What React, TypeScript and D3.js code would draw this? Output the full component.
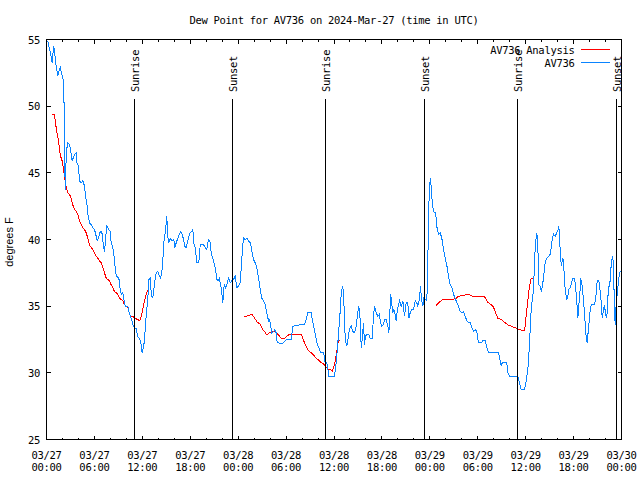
import React from "react";
import * as d3 from "d3";

// ---- data (hours after 2024-03-27 00:00 UTC, degrees F) ----
const av736: [number, number][] = [
[0.16,54.9],[0.38,54.25],[0.50,54.0],[0.63,53.6],[0.71,53.25],[0.79,53.75],[0.88,54.5],[1.00,54.25],[1.13,53.25],[1.29,52.75],[1.42,52.25],[1.54,52.6],[1.72,52.9],[1.84,52.6],[1.97,52.25],[2.13,51.9],[2.22,49.6],[2.29,46.0],[2.34,43.75],[2.42,45.5],[2.54,46.8],[2.67,47.25],[2.88,47.1],[3.01,46.75],[3.22,45.9],[3.51,46.4],[3.72,46.5],[3.80,45.75],[4.01,45.5],[4.13,44.4],[4.35,44.25],[4.55,44.4],[4.76,44.0],[4.89,43.25],[5.05,42.75],[5.17,41.9],[5.39,41.25],[5.60,41.1],[5.80,40.9],[6.01,40.75],[6.22,40.25],[6.35,39.9],[6.52,40.1],[6.64,40.5],[6.85,40.6],[6.98,40.4],[7.14,39.4],[7.27,39.1],[7.39,40.0],[7.55,41.0],[7.80,40.75],[7.98,40.6],[8.10,39.75],[8.31,39.4],[8.52,38.5],[8.64,37.5],[8.81,37.25],[9.06,37.1],[9.23,36.25],[9.36,35.9],[9.56,36.0],[9.68,35.5],[9.86,35.0],[10.19,35.0],[10.31,34.6],[10.49,34.25],[10.61,34.1],[10.81,33.6],[11.02,33.4],[11.23,33.3],[11.43,32.7],[11.65,32.6],[11.86,32.1],[11.98,31.5],[12.18,32.0],[12.33,33.0],[12.48,34.25],[12.68,35.5],[12.81,37.0],[12.99,37.1],[13.11,36.0],[13.24,35.6],[13.40,35.9],[13.52,36.75],[13.74,37.5],[13.94,37.6],[14.15,37.25],[14.27,37.1],[14.44,37.5],[14.56,38.4],[14.69,39.75],[14.86,40.5],[14.99,41.25],[15.06,41.75],[15.19,40.25],[15.31,39.75],[15.49,40.1],[15.69,39.9],[15.94,40.0],[16.07,39.4],[16.24,39.75],[16.44,40.1],[16.65,40.4],[16.82,40.6],[16.99,40.4],[17.16,40.0],[17.32,39.5],[17.49,39.4],[17.69,39.9],[17.82,40.25],[17.99,40.5],[18.19,40.6],[18.32,40.75],[18.44,39.75],[18.62,39.4],[18.82,38.25],[19.07,38.25],[19.25,39.6],[19.66,39.6],[19.87,39.4],[20.07,39.25],[20.20,39.75],[20.32,40.0],[20.50,39.75],[20.62,39.0],[20.82,38.6],[21.04,38.1],[21.16,37.75],[21.33,37.0],[21.50,36.9],[21.66,37.1],[21.79,36.6],[21.91,36.25],[22.08,35.25],[22.25,36.6],[22.41,36.4],[22.58,36.6],[22.79,37.1],[23.00,36.75],[23.20,36.9],[23.42,37.0],[23.63,37.25],[23.83,36.4],[24.04,36.5],[24.26,36.75],[24.46,38.6],[24.58,39.6],[24.71,40.1],[24.88,40.0],[25.08,40.1],[25.29,39.9],[25.54,39.75],[25.71,39.1],[25.92,38.5],[26.13,38.25],[26.33,37.9],[26.55,37.1],[26.76,36.25],[26.96,35.6],[27.17,35.4],[27.39,35.1],[27.59,34.5],[27.80,33.9],[27.92,34.0],[28.05,33.6],[28.21,33.0],[28.42,33.1],[28.59,33.25],[28.76,33.0],[28.89,32.25],[29.59,32.2],[30.02,32.5],[30.64,32.5],[30.84,33.5],[31.68,33.6],[32.31,33.6],[32.52,34.0],[32.72,34.5],[33.15,34.5],[33.27,34.0],[33.43,33.6],[33.65,32.9],[33.85,32.25],[34.10,31.9],[34.31,31.5],[34.72,31.5],[34.81,31.0],[34.94,30.6],[35.10,30.75],[35.22,30.4],[35.35,29.75],[36.06,29.75],[36.28,30.8],[36.48,32.25],[36.61,33.25],[36.79,34.75],[36.91,36.0],[37.04,36.4],[37.11,36.5],[37.24,35.25],[37.33,33.75],[37.42,32.4],[37.61,32.0],[37.73,32.4],[37.86,33.0],[38.03,33.4],[38.16,33.5],[38.36,33.1],[38.57,33.0],[38.78,33.5],[38.98,34.5],[39.11,35.0],[39.28,34.0],[39.41,31.9],[39.53,32.5],[39.69,33.75],[39.82,32.1],[39.94,32.75],[40.11,32.9],[40.36,32.9],[40.53,32.6],[40.78,32.6],[40.95,34.25],[41.07,35.0],[41.29,34.5],[41.49,34.25],[41.70,34.4],[41.82,33.75],[41.99,33.5],[42.20,33.6],[42.33,34.0],[42.54,34.0],[42.74,33.5],[42.86,33.0],[42.95,33.75],[43.08,35.9],[43.20,35.4],[43.36,34.5],[43.49,34.75],[43.66,34.4],[43.79,33.9],[43.91,34.6],[44.08,35.1],[44.20,35.4],[44.42,35.0],[44.62,35.4],[44.83,34.25],[45.04,35.25],[45.24,35.25],[45.37,34.1],[45.54,34.5],[45.74,34.75],[45.96,34.75],[46.17,35.4],[46.37,35.25],[46.50,35.0],[46.71,35.6],[46.83,36.5],[46.96,35.5],[47.12,35.0],[47.25,35.6],[47.46,35.5],[47.62,35.4],[47.71,37.0],[47.80,40.25],[47.87,42.6],[48.05,44.6],[48.17,44.0],[48.30,42.75],[48.46,42.1],[48.67,42.0],[48.80,41.6],[48.92,40.75],[49.09,40.4],[49.30,40.5],[49.50,40.1],[49.71,39.25],[49.92,38.6],[50.12,38.1],[50.34,37.25],[50.55,36.6],[50.75,36.4],[50.96,35.9],[51.18,35.6],[51.38,35.25],[51.59,35.0],[51.80,34.6],[52.00,34.5],[52.21,34.6],[52.43,34.25],[52.63,33.9],[52.84,33.75],[53.05,33.75],[53.26,33.4],[53.47,33.1],[53.68,33.25],[53.88,33.1],[54.09,32.25],[54.43,32.25],[54.63,32.4],[54.94,32.4],[55.10,32.0],[55.35,31.5],[56.60,31.5],[56.81,30.9],[56.94,30.5],[57.06,30.75],[57.64,30.75],[57.77,30.0],[57.98,29.75],[59.02,29.75],[59.23,29.25],[59.44,28.75],[59.85,28.75],[60.07,29.4],[60.27,30.25],[60.39,31.25],[60.57,33.25],[60.70,34.9],[60.82,35.4],[60.99,36.25],[61.11,38.4],[61.23,39.75],[61.40,40.5],[61.52,39.6],[61.65,36.6],[61.82,36.5],[61.95,36.1],[62.07,36.4],[62.23,37.1],[62.36,37.9],[62.48,38.4],[62.65,38.6],[62.90,38.75],[63.07,38.9],[63.20,39.4],[63.32,40.0],[63.48,40.4],[63.70,40.25],[63.90,40.5],[64.07,40.75],[64.15,41.0],[64.24,40.25],[64.36,38.6],[64.49,38.0],[64.61,38.6],[64.74,38.4],[64.86,36.9],[64.99,36.0],[65.15,35.5],[65.28,35.75],[65.40,36.25],[65.58,36.4],[65.74,36.75],[65.90,37.1],[66.12,37.1],[66.24,36.5],[66.40,35.4],[66.53,34.1],[66.65,35.0],[66.78,35.9],[66.90,37.1],[67.08,36.5],[67.24,35.5],[67.37,34.4],[67.49,33.4],[67.58,32.6],[67.70,32.25],[67.83,33.1],[67.96,33.9],[68.08,34.75],[68.21,35.1],[68.62,35.1],[68.83,35.9],[68.96,36.9],[69.16,36.9],[69.33,36.1],[69.50,35.1],[69.58,34.1],[69.75,34.75],[69.87,35.1],[70.00,34.4],[70.16,34.1],[70.28,35.6],[70.41,36.4],[70.58,36.9],[70.71,38.1],[70.83,38.6],[70.91,38.75],[71.00,37.75],[71.12,34.9],[71.21,33.6],[71.33,35.1],[71.46,35.9],[71.63,36.9],[71.75,37.5],[71.88,37.6]
];

const analysisDay1: [number, number][] = [
[0.66,49.4],[1.00,49.4],[1.09,48.9],[1.21,48.4],[1.34,47.9],[1.50,47.4],[1.63,46.75],[1.75,46.25],[1.92,46.0],[2.04,45.6],[2.17,45.1],[2.34,44.4],[2.47,43.9],[2.67,43.5],[2.88,43.4],[3.09,43.1],[3.29,42.6],[3.51,42.25],[3.72,42.1],[3.92,41.9],[4.13,41.4],[4.35,41.1],[4.55,40.9],[4.76,40.75],[4.97,40.5],[5.17,40.1],[5.38,39.6],[5.60,39.4],[5.80,39.25],[6.01,39.0],[6.22,38.75],[6.42,38.6],[6.64,38.4],[6.85,38.25],[7.05,37.9],[7.26,37.5],[7.48,37.1],[7.68,37.0],[7.89,36.9],[8.10,36.6],[8.30,36.4],[8.51,36.1],[8.73,36.0],[8.93,35.9],[9.14,35.6],[9.35,35.5],[9.55,35.4],[9.77,35.1],[9.98,35.0],[10.18,34.9],[10.39,34.4],[10.52,34.25],[10.81,34.25],[11.02,34.1],[11.43,34.0],[11.65,33.9],[11.86,34.2],[12.06,34.8],[12.27,35.4],[12.48,35.9],[12.68,36.2]
];

const analysisDay2: [number, number][] = [
[24.71,34.2],[25.01,34.25],[25.42,34.3],[25.71,34.4],[25.96,34.2],[26.17,34.0],[26.38,33.8],[26.67,33.7],[26.88,33.5],[27.09,33.25],[27.30,33.1],[27.51,32.9],[27.71,32.9],[27.92,33.0],[28.46,33.1],[28.76,33.0],[28.96,32.9],[29.18,32.75],[29.39,32.6],[29.80,32.6],[30.02,32.7],[30.22,32.8],[30.43,32.9],[31.68,32.9],[31.89,32.9],[32.09,32.6],[32.31,32.25],[32.52,32.0],[32.72,31.75],[32.93,31.6],[33.15,31.5],[33.35,31.4],[33.56,31.25],[33.77,31.1],[33.97,31.0],[34.19,30.9],[34.40,30.75],[34.60,30.7],[34.81,30.6],[35.02,30.4],[35.22,30.3],[35.44,30.25],[35.65,30.2],[35.78,30.1],[35.94,30.4],[36.19,31.0],[36.35,31.6],[36.48,32.25],[36.61,32.4],[36.79,32.45]
];

const analysisDay3: [number, number][] = [
[48.80,35.05],[49.00,35.2],[49.21,35.3],[49.42,35.4],[49.62,35.5],[50.67,35.5],[51.09,35.55],[51.30,35.6],[51.50,35.7],[51.71,35.75],[52.13,35.8],[52.55,35.85],[52.97,35.85],[53.18,35.8],[53.38,35.75],[54.01,35.7],[54.85,35.7],[55.06,35.5],[55.26,35.3],[55.47,35.2],[55.68,35.1],[55.89,35.0],[56.10,34.75],[56.31,34.4],[56.51,34.1],[56.93,34.0],[57.14,33.9],[57.35,33.8],[57.56,33.7],[57.76,33.6],[57.98,33.55],[58.19,33.5],[58.39,33.45],[58.60,33.4],[58.81,33.35],[59.01,33.3],[59.23,33.25],[59.44,33.2],[59.85,33.15],[59.98,33.75],[60.07,34.4],[60.14,34.75],[60.27,35.4],[60.39,36.1],[60.57,36.75],[60.70,37.1],[60.90,37.1]
];

const sunriseHours = [11.02, 34.94, 58.98];
const sunsetHours = [23.29, 47.33, 71.37];
const yTicks = [25, 30, 35, 40, 45, 50, 55];
const xMajorStep = 6;
const xMinorStep = 2;

const title = "Dew Point for AV736 on 2024-Mar-27 (time in UTC)";
const yLabel = "degrees F";
const seriesNames = ["AV736 Analysis", "AV736"];
const seriesColors = ["#ff0000", "#0a84ff"];

const START = Date.UTC(2024, 2, 27, 0, 0);
const HOUR = 3600 * 1000;
const toDate = (h: number) => new Date(START + h * HOUR);

const W = 640, H = 480;
const L = 46.5, R = 621.5, T = 39.5, B = 439.5;
const MONO = "'DejaVu Sans Mono', monospace";

export default function App() {
  const x = d3.scaleUtc().domain([toDate(0), toDate(72)]).range([L, R]);
  const y = d3.scaleLinear().domain([25, 55]).range([B, T]);
  const line = d3
    .line<[number, number]>()
    .x((d) => x(toDate(d[0])))
    .y((d) => y(d[1]));

  const fmtDay = d3.utcFormat("%m/%d");
  const fmtTime = d3.utcFormat("%H:%M");
  const xTicks = d3.range(0, 72 + 0.001, xMinorStep);
  const snap = (v: number) => Math.round(v - 0.5) + 0.5;

  const textStyle: React.CSSProperties = { fontFamily: MONO, fontSize: 10.5, letterSpacing: -0.3 };

  const sunEvents = [
    ...sunriseHours.map((h) => ({ h, label: "Sunrise" })),
    ...sunsetHours.map((h) => ({ h, label: "Sunset" })),
  ];

  return (
    <svg
      width={W}
      height={H}
      style={{ position: "absolute", left: 0, top: 0, background: "#fff" }}
    >
      <rect x={0} y={0} width={W} height={H} fill="#fff" />
      <text x={(L + R) / 2} y={23.5} textAnchor="middle" style={textStyle} fill="#000">
        {title}
      </text>

      {/* data */}
      <g fill="none" strokeWidth={1} shapeRendering="crispEdges">
        {[analysisDay1, analysisDay2, analysisDay3].map((seg, i) => (
          <path key={i} d={line(seg) || ""} stroke={seriesColors[0]} />
        ))}
        <path d={line(av736) || ""} stroke={seriesColors[1]} />
      </g>

      {/* sunrise / sunset markers */}
      {sunEvents.map((e, i) => {
        const sx = snap(x(toDate(e.h)));
        return (
          <g key={i}>
            <line x1={sx} x2={sx} y1={98.5} y2={B} stroke="#000" strokeWidth={1} shapeRendering="crispEdges" />
            <text
              transform={`translate(${sx + 4.5},92) rotate(-90)`}
              style={textStyle}
              fill="#000"
            >
              {e.label}
            </text>
          </g>
        );
      })}

      {/* frame */}
      <rect x={L} y={T} width={R - L} height={B - T} fill="none" stroke="#000" strokeWidth={1} shapeRendering="crispEdges" />

      {/* x ticks */}
      <g stroke="#000" strokeWidth={1} shapeRendering="crispEdges">
        {xTicks.map((h) => {
          const tx = snap(x(toDate(h)));
          const len = h % xMajorStep === 0 ? 4 : 2;
          return (
            <g key={h}>
              <line x1={tx} x2={tx} y1={B} y2={B - len} />
              <line x1={tx} x2={tx} y1={T} y2={T + len} />
            </g>
          );
        })}
        {yTicks.map((v) => {
          const ty = snap(y(v));
          return (
            <g key={v}>
              <line x1={L} x2={L + 4} y1={ty} y2={ty} />
              <line x1={R} x2={R - 4} y1={ty} y2={ty} />
            </g>
          );
        })}
      </g>

      {xTicks
        .filter((h) => h % xMajorStep === 0)
        .map((h) => {
          const tx = x(toDate(h));
          const d = toDate(h);
          return (
            <g key={h} style={textStyle} fill="#000">
              <text x={tx} y={458.5} textAnchor="middle">{fmtDay(d)}</text>
              <text x={tx} y={471} textAnchor="middle">{fmtTime(d)}</text>
            </g>
          );
        })}

      {yTicks.map((v) => (
        <text key={v} x={40} y={y(v) + 4} textAnchor="end" style={textStyle} fill="#000">
          {v}
        </text>
      ))}

      <text
        transform={`translate(13,242) rotate(-90)`}
        textAnchor="middle"
        style={{ fontFamily: "'Liberation Sans', Arial, sans-serif", fontSize: 11 }}
        fill="#000"
      >
        {yLabel}
      </text>

      {/* legend */}
      {seriesNames.map((name, i) => {
        const ly = 49.5 + i * 13;
        return (
          <g key={name}>
            <text x={574.5} y={ly + 4} textAnchor="end" style={textStyle} fill="#000">
              {name}
            </text>
            <line x1={581} x2={610} y1={ly} y2={ly} stroke={seriesColors[i]} strokeWidth={1} shapeRendering="crispEdges" />
          </g>
        );
      })}
    </svg>
  );
}
